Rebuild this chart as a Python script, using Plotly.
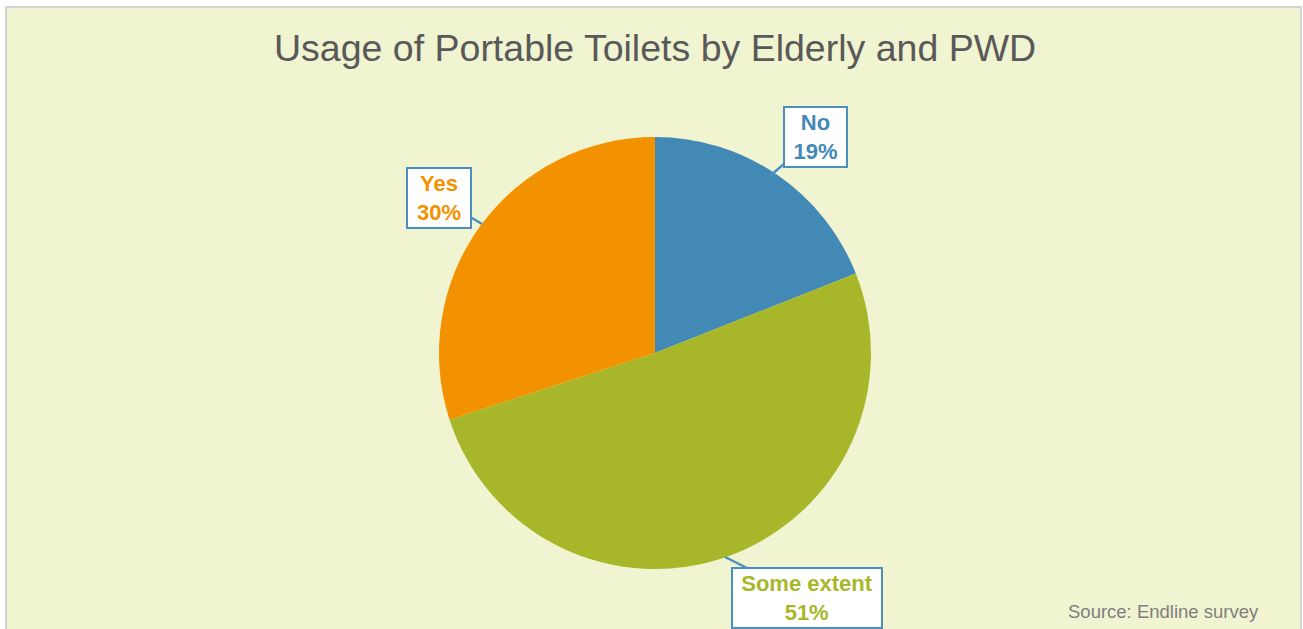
import plotly.graph_objects as go

# Survey responses
categories = ["No", "Some extent", "Yes"]
shares = [19, 51, 30]
slice_colors = ["#4389B5", "#A8B72A", "#F39200"]

W, H = 1303, 629
M_L, M_R, M_T, M_B = 7, 0, 137, 60
PW, PH = W - M_L - M_R, H - M_T - M_B


def px_x(p):
    return (p - M_L) / PW


def px_y(p):
    return (H - M_B - p) / PH


fig = go.Figure(
    go.Pie(
        labels=categories,
        values=shares,
        sort=False,
        direction="clockwise",
        rotation=0,
        marker=dict(colors=slice_colors, line=dict(width=0)),
        textinfo="none",
        hoverinfo="label+percent",
        showlegend=False,
    )
)

# Chart frame
fig.add_shape(
    type="rect", xref="paper", yref="paper",
    x0=px_x(6), x1=px_x(1301), y0=px_y(640), y1=px_y(7),
    fillcolor="#F0F4D0", line=dict(color="#D4D4D4", width=2), layer="below",
)

fig.add_annotation(
    text="Usage of Portable Toilets by Elderly and PWD",
    xref="paper", yref="paper", x=px_x(655), y=px_y(48),
    xanchor="center", yanchor="middle", showarrow=False,
    font=dict(family="Liberation Sans, Arial", size=37.5, color="#595959"),
)

fig.add_annotation(
    text="Source: Endline survey",
    xref="paper", yref="paper", x=px_x(1261), y=px_y(611),
    xanchor="right", yanchor="middle", showarrow=False,
    font=dict(family="Liberation Sans, Arial", size=18.5, color="#7F7F7F"),
)

# Callout labels: (tip pixel, box center pixel, box width)
callouts = {
    "No": ((770, 176), (815.5, 136.5), 57),
    "Some extent": ((725, 557), (807, 598), 144),
    "Yes": ((482, 224), (439, 198.5), 58),
}
for cat, val, col in zip(categories, shares, slice_colors):
    (tx, ty), (bx, by), bw = callouts[cat]
    fig.add_annotation(
        text=f"<b>{cat}</b><br><b>{val}%</b>",
        xref="paper", yref="paper", x=px_x(tx), y=px_y(ty),
        ax=bx - tx, ay=by - ty,
        showarrow=True, arrowhead=0, arrowwidth=2.5, arrowcolor="#4A8FC0",
        bgcolor="#FFFFFF", bordercolor="#4A8FC0", borderwidth=2, borderpad=2,
        width=bw,
        font=dict(family="Liberation Sans, Arial", size=22, color=col),
        align="center",
    )

fig.update_layout(
    width=W, height=H,
    margin=dict(l=M_L, r=M_R, t=M_T, b=M_B),
    paper_bgcolor="#FFFFFF",
    plot_bgcolor="#FFFFFF",
)

fig.write_html("out.html")
